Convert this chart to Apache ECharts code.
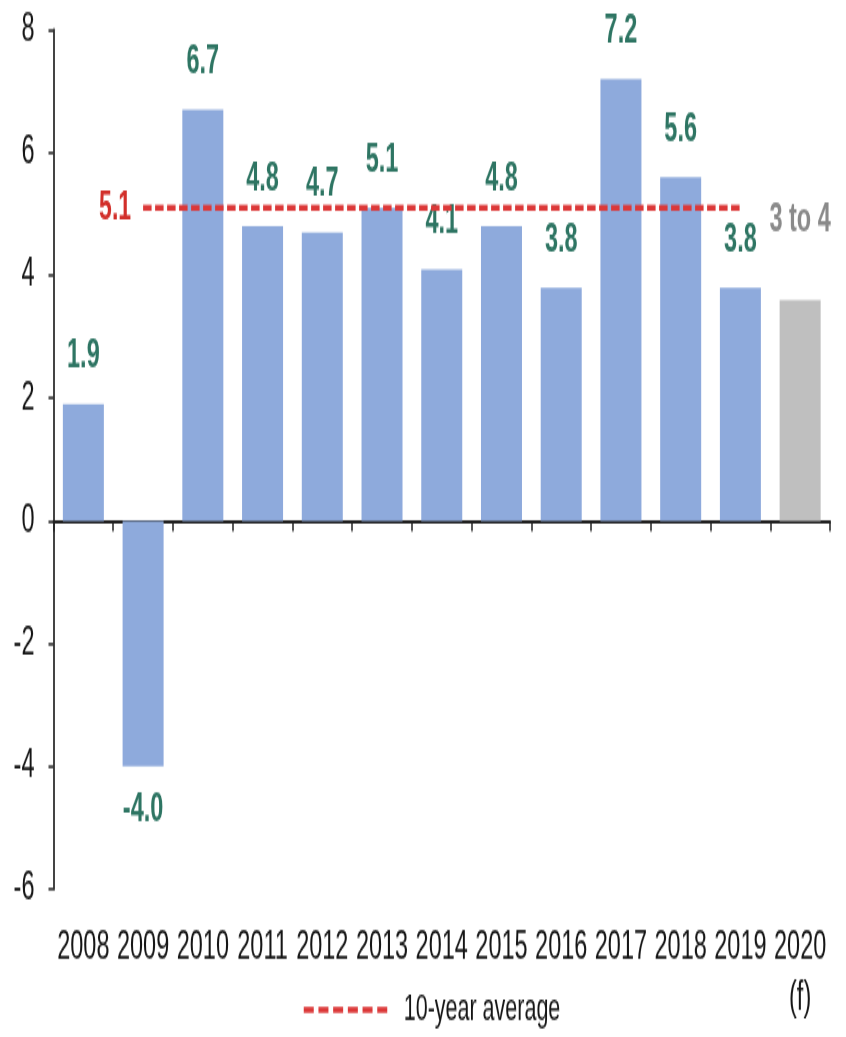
<!DOCTYPE html>
<html>
<head>
<meta charset="utf-8">
<title>Annual growth, 2008–2020</title>
<script src="https://cdn.jsdelivr.net/npm/echarts@6/dist/echarts.min.js"></script>
<style>
  html { margin: 0; padding: 0; background: #ffffff; overflow: hidden; }
  body { margin: 0; padding: 0; background: #ffffff; width: 846px; height: 1037px; position: relative; }
  /* the chart is laid out on a short canvas and stretched vertically,
     which gives the tall, narrow lettering of the printed figure */
  #chart { position: absolute; left: 0; top: 0; width: 846px; height: 610px;
           transform: scaleY(1.7); transform-origin: 0 0; }
</style>
</head>
<body>
<div id="chart"></div>
<script>
// ---- data ----
const years = ['2008', '2009', '2010', '2011', '2012', '2013', '2014',
               '2015', '2016', '2017', '2018', '2019', '2020'];
const growth = [1.9, -4.0, 6.7, 4.8, 4.7, 5.1, 4.1, 4.8, 3.8, 7.2, 5.6, 3.8, 3.6];
const forecastYear = '2020';
const forecastText = '3 to 4';
const forecastMark = '(f)';
const yMin = -6;
const yMax = 8;
const yStep = 2;
const averageName = '10-year average';
const averageValue = 5.1;
const averageFrom = '2009';
const averageTo = '2019';

// ---- styling ----
const FONT = '"Liberation Sans", Arial, sans-serif';
const BLUE = '#8eaadc';
const GREY = '#bfbfbf';
const TEAL = '#2e7563';
const RED = '#dc3838';
const INK = '#161616';

const barData = growth.map((v, i) => {
  const forecast = years[i] === forecastYear;
  const item = { value: v, itemStyle: { color: forecast ? GREY : BLUE } };
  if (forecast) {
    item.label = { position: 'top', distance: 35, color: '#8a8a8a', formatter: forecastText };
  } else if (v < 0) {
    item.label = { position: 'bottom', distance: 14 };
  }
  return item;
});

const i0 = years.indexOf(averageFrom);
const i1 = years.indexOf(averageTo);
const averageData = years.map((y, i) => {
  if (i < i0 || i > i1) return '-';
  if (i === i0) {
    return {
      value: averageValue,
      symbol: 'circle',
      symbolSize: 0,
      label: {
        show: true, position: 'left', distance: 12,
        color: '#d22f2a', fontFamily: FONT, fontWeight: 'bold', fontSize: 23,
        formatter: averageValue.toFixed(1)
      }
    };
  }
  return averageValue;
});

const chart = echarts.init(document.getElementById('chart'), null, { renderer: 'canvas' });

chart.setOption({
  animation: false,
  backgroundColor: '#ffffff',
  grid: { left: 53.5, right: 16, top: 17.6, bottom: 87, containLabel: false },
  legend: {
    data: [averageName],
    left: 297,
    top: 578,
    itemWidth: 88,
    itemHeight: 14,
    itemStyle: { opacity: 0 },
    lineStyle: { color: RED, width: 3.5, type: [10, 4.7] },
    textStyle: { fontFamily: FONT, fontSize: 21.5, color: INK, padding: [0, 0, 0, 7] }
  },
  xAxis: [
    {
      // year labels along the bottom edge
      type: 'category',
      data: years,
      position: 'bottom',
      axisLine: { show: false, onZero: false },
      axisTick: { show: false },
      axisLabel: {
        interval: 0,
        margin: 19.5,
        fontFamily: FONT,
        fontSize: 23.5,
        lineHeight: 30,
        color: INK,
        formatter: v => (v === forecastYear ? v + '\n' + forecastMark : v)
      },
      splitLine: { show: false }
    },
    {
      // baseline at zero with downward category ticks
      type: 'category',
      data: years,
      position: 'top',
      axisLine: { show: true, onZero: true, lineStyle: { color: '#222222', width: 1.8 } },
      axisTick: { show: true, inside: true, length: 6, lineStyle: { color: '#222222', width: 1.5 } },
      axisLabel: { show: false },
      splitLine: { show: false }
    }
  ],
  yAxis: {
    type: 'value',
    min: yMin,
    max: yMax,
    interval: yStep,
    axisLine: { show: true, lineStyle: { color: '#444444', width: 2 } },
    axisTick: { show: true, length: 5, lineStyle: { color: '#222222', width: 1.5 } },
    axisLabel: { margin: 19, fontFamily: FONT, fontSize: 23.5, color: INK },
    splitLine: { show: false }
  },
  series: [
    {
      type: 'bar',
      xAxisIndex: 0,
      data: barData,
      barWidth: 41,
      label: {
        show: true,
        position: 'top',
        distance: 16,
        fontFamily: FONT,
        fontWeight: 'bold',
        fontSize: 23.5,
        color: TEAL,
        formatter: p => Number(p.value).toFixed(1)
      },
      z: 2
    },
    {
      type: 'line',
      name: averageName,
      xAxisIndex: 0,
      data: averageData,
      symbol: 'none',
      connectNulls: false,
      itemStyle: { color: RED },
      lineStyle: { color: RED, width: 3.5, type: [8.5, 3.5], cap: 'butt' },
      z: 3
    }
  ]
});
</script>
</body>
</html>
